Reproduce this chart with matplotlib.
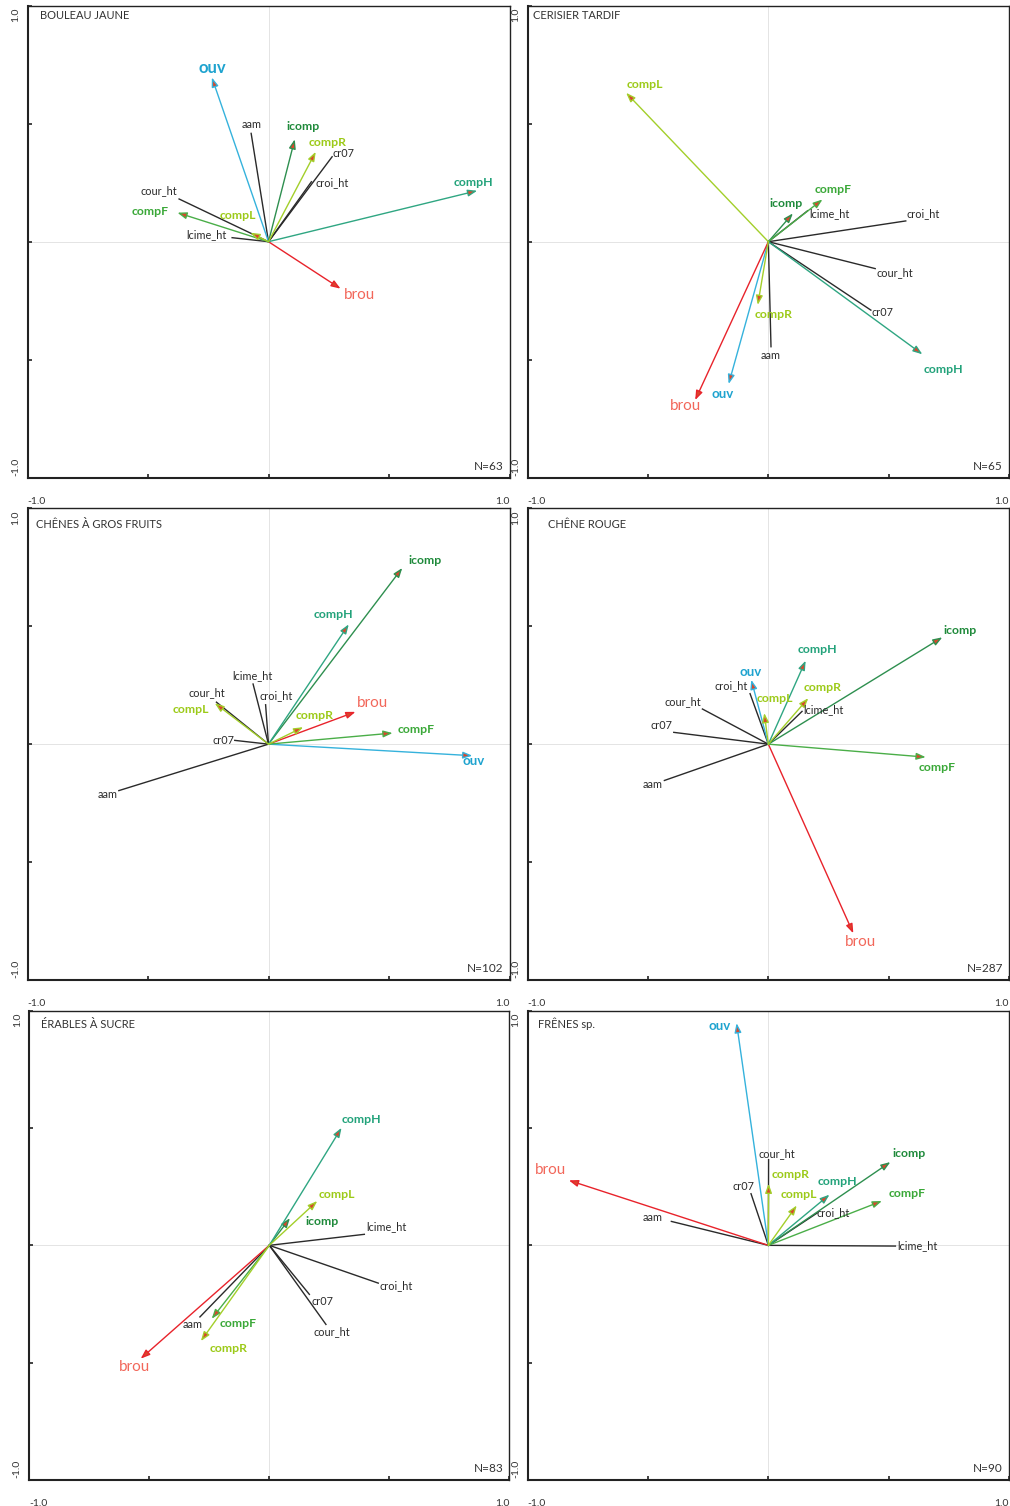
import matplotlib.pyplot as plt
import numpy as np

plt.rcParams['font.family'] = ['Lato', 'DejaVu Sans']

variables = ["ouv", "brou", "icomp", "compH", "compF", "compR", "compL",
             "aam", "cour_ht", "croi_ht", "cr07", "lcime_ht"]
arrow_vars = ["ouv", "brou", "icomp", "compH", "compF", "compR", "compL"]

titles = ["BOULEAU JAUNE", "CERISIER TARDIF", "CHÊNES À GROS FRUITS",
          "CHÊNE ROUGE", "ÉRABLES À SUCRE", "FRÊNES sp."]
n_obs = [63, 65, 102, 287, 83, 90]

# variable scores on axes 1 and 2 (nan = variable not kept for that species)
bouleau_x = [-0.235, 0.299, 0.109, 0.866, -0.378, 0.196, -0.075, -0.072, -0.371, 0.178, 0.264, -0.151]
bouleau_y = [0.696, -0.199, 0.434, 0.216, 0.123, 0.381, 0.038, 0.459, 0.181, 0.254, 0.360, 0.017]

cerisier_x = [-0.165, -0.304, 0.102, 0.640, 0.225, -0.044, -0.591, 0.011, 0.444, 0.571, 0.426, 0.163]
cerisier_y = [-0.603, -0.671, 0.120, -0.477, 0.179, -0.268, 0.631, -0.445, -0.114, 0.088, -0.290, 0.131]

chenes_gf_x = [0.846, 0.361, 0.555, 0.333, 0.515, 0.144, -0.223, -0.621, -0.216, -0.012, -0.140, -0.064]
chenes_gf_y = [-0.049, 0.137, 0.747, 0.508, 0.047, 0.072, 0.174, -0.197, 0.178, 0.167, 0.016, 0.255]

chene_rouge_x = [-0.071, 0.353, 0.723, 0.155, 0.654, 0.166, -0.017, -0.432, -0.274, -0.076, -0.393, 0.140]
chene_rouge_y = [0.273, -0.802, 0.453, 0.354, -0.055, 0.195, 0.132, -0.154, 0.149, 0.214, 0.050, 0.139]

erables_x = [np.nan, -0.536, 0.086, 0.301, -0.240, -0.285, 0.200, -0.289, 0.236, 0.454, 0.167, 0.396]
erables_y = [np.nan, -0.483, 0.116, 0.501, -0.313, -0.408, 0.189, -0.305, -0.337, -0.161, -0.209, 0.047]

frenes_x = [-0.132, -0.829, 0.507, 0.254, 0.472, 0.001, 0.118, -0.403, 0.001, 0.203, -0.072, 0.528]
frenes_y = [0.947, 0.277, 0.355, 0.216, 0.189, 0.263, 0.170, 0.102, 0.365, 0.138, 0.220, -0.003]

scores_x = [bouleau_x, cerisier_x, chenes_gf_x, chene_rouge_x, erables_x, frenes_x]
scores_y = [bouleau_y, cerisier_y, chenes_gf_y, chene_rouge_y, erables_y, frenes_y]

# ---- layout -------------------------------------------------------------
W, H = 1010, 1506
# panel boxes in pixels: left, top, right, bottom
boxes = [(27.5, 5.7, 509.5, 477.7), (527.7, 5.7, 1009, 477.7),
         (27.5, 508.3, 509.5, 980), (527.7, 508.3, 1009, 980),
         (29.3, 1010.7, 509.3, 1480), (527.7, 1010.7, 1009, 1480)]
title_offsets = [(13, -10), (5, -10), (9, -16), (20, -16), (12, -13.6), (10, -13.3)]

# label offsets from the arrow tip, in pixels (same order as variables)
label_offsets = [
    [(0, 9.3), (18.7, -6.7), (8.3, 12.3), (-4, 8.7), (-27.7, 0.7), (11.7, 9), (-12.3, 17.7),
     (0, 8.7), (-20, 8), (21, -0.7), (11.7, 3.7), (-25.7, 2.7)],
    [(-6, -10.3), (-10, -6), (-7, 10), (21, -15), (11, 10), (16, -10), (18.3, 8.3),
     (0, -8.7), (20, -4), (17.3, 7), (11.7, -2.7), (21.7, -2.7)],
    [(1.7, -5.7), (17, 9.3), (23, 7.7), (-15.7, 10), (24, 3.3), (11, 12), (-24, -6.7),
     (-11.3, -4.3), (-9.3, 10), (11, 9.3), (-11.7, -0.3), (-0.7, 8.3)],
    [(-0.3, 7.7), (7, -8.7), (17.7, 7.3), (12, 11), (11.7, -10.3), (14.3, 10.3), (10.7, 14.3),
     (-11.7, -4), (-19.7, 7.3), (-19, 8), (-12, 7), (21.3, 1.7)],
    [(0, 0), (-6.3, -8.7), (31.7, -3.3), (20.3, 8), (26, -5), (27.3, -7.7), (20, 6.7),
     (-7.7, -7.3), (5.7, -7), (17.7, -2.3), (13.3, -6.7), (21.7, 7.7)],
    [(-17.3, -3.3), (-18.3, 10), (18.3, 8.3), (8.3, 13.3), (25.3, 7.3), (21.7, 9), (2.3, 10.7),
     (-18.3, 4), (8.3, 6.3), (15.7, 0), (-7.3, 7.3), (22, 0)],
]

line_colors = {"ouv": "#35b2dc", "brou": "#e8232b", "icomp": "#2e8f4f",
               "compH": "#2fa682", "compF": "#4aae48", "compR": "#a3cf2a",
               "compL": "#a3cf2a"}
text_styles = {
    "ouv": dict(color="#1ea3cf", fontweight="bold", fontsize=9.5),
    "brou": dict(color="#f2675a", fontweight="normal", fontsize=11),
    "icomp": dict(color="#1f8a3b", fontweight="bold", fontsize=8.8),
    "compH": dict(color="#22a27a", fontweight="bold", fontsize=8.8),
    "compF": dict(color="#3aa838", fontweight="bold", fontsize=8.8),
    "compR": dict(color="#9cca18", fontweight="bold", fontsize=8.8),
    "compL": dict(color="#9cca18", fontweight="bold", fontsize=8.8),
}
black_style = dict(color="#2a2a2a", fontsize=7.8)
head_color = "#d9462c"

fig = plt.figure(figsize=(W / 100, H / 100), dpi=100)

for i, (l, t, r, b) in enumerate(boxes):
    ax = fig.add_axes([l / W, (H - b) / H, (r - l) / W, (b - t) / H])
    ax.set_xlim(-1, 1)
    ax.set_ylim(-1, 1)
    ax.axhline(0, color="#e4e4e4", lw=0.7, zorder=0)
    ax.axvline(0, color="#e4e4e4", lw=0.7, zorder=0)

    for side in ["left", "bottom"]:
        ax.spines[side].set_linewidth(1.5)
        ax.spines[side].set_color("#222222")
    for side in ["top", "right"]:
        ax.spines[side].set_linewidth(1.0)
        ax.spines[side].set_color("#222222")
    ax.set_xticks([-1, -0.5, 0, 0.5, 1])
    ax.set_yticks([-1, -0.5, 0, 0.5, 1])
    ax.set_xticklabels([])
    ax.set_yticklabels([])
    ax.tick_params(direction="in", length=3, width=1.2, color="#222222")

    # axis end labels
    tick_kw = dict(xycoords="axes fraction", textcoords="offset pixels",
                   fontsize=7.5, color="#333333")
    ax.annotate("1.0", xy=(0, 1), xytext=(-12, -2), rotation=90,
                ha="center", va="top", **tick_kw)
    ax.annotate("-1.0", xy=(0, 0), xytext=(-12, 2), rotation=90,
                ha="center", va="bottom", **tick_kw)
    ax.annotate("-1.0", xy=(0, 0), xytext=(0, -24), ha="left", va="center",
                annotation_clip=False, **tick_kw)
    ax.annotate("1.0", xy=(1, 0), xytext=(0, -24), ha="right", va="center",
                annotation_clip=False, **tick_kw)

    ax.annotate(titles[i], xy=(0, 1), xycoords="axes fraction",
                xytext=title_offsets[i], textcoords="offset pixels",
                ha="left", va="center", fontsize=8, color="#333333")
    ax.annotate(f"N={n_obs[i]}", xy=(1, 0), xycoords="axes fraction",
                xytext=(-6, 11.5), textcoords="offset pixels",
                ha="right", va="center", fontsize=8.5, color="#333333")

    xs, ys = scores_x[i], scores_y[i]
    for j, name in enumerate(variables):
        x, y = xs[j], ys[j]
        if np.isnan(x):
            continue
        if name in arrow_vars:
            ax.annotate("", xy=(x, y), xytext=(0, 0),
                        arrowprops=dict(arrowstyle="-|>,head_length=0.55,head_width=0.2",
                                        edgecolor=line_colors[name],
                                        facecolor=head_color,
                                        lw=1.0, mutation_scale=10,
                                        shrinkA=0, shrinkB=0), zorder=3)
            style = dict(text_styles[name])
            if i == 0 and name == "ouv":
                style["fontsize"] = 12
        else:
            ax.plot([0, x], [0, y], color="#2a2a2a", lw=1.0, zorder=2)
            style = black_style
        ax.annotate(name, xy=(x, y), xytext=label_offsets[i][j],
                    textcoords="offset pixels", ha="center", va="center",
                    zorder=4, **style)

fig.savefig("out.png", dpi=100)
